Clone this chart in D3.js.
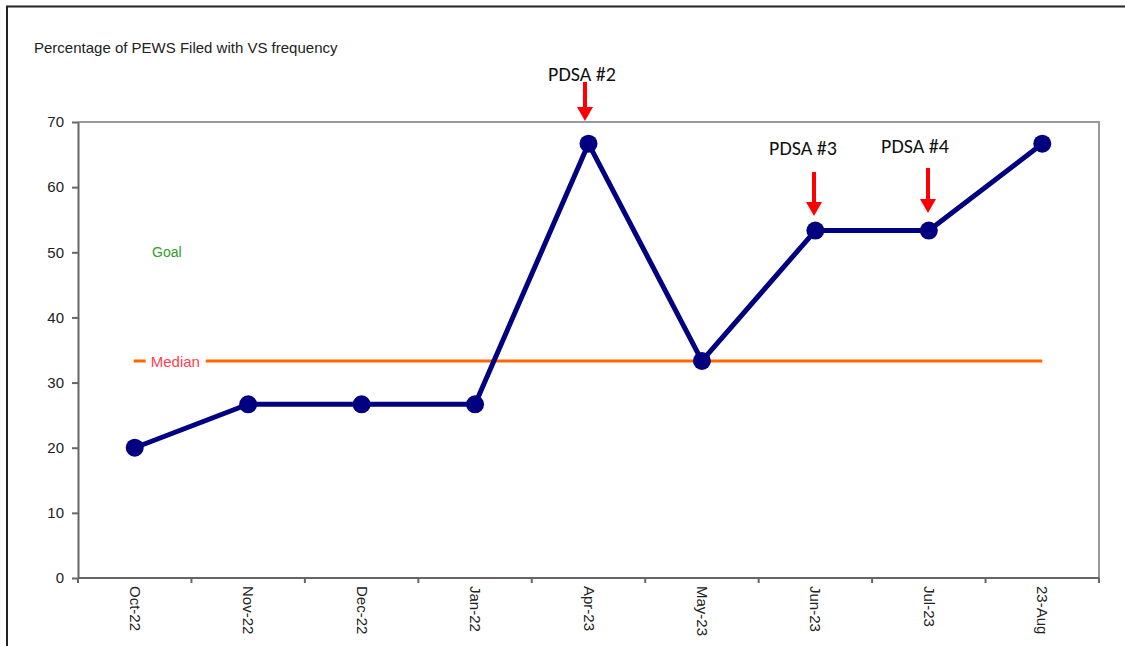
<!doctype html>
<html>
<head>
  <meta charset="utf-8">
  <script src="https://d3js.org/d3.v7.min.js"></script>
  <style>
    body { margin: 0; background: #fff; }
    svg { display: block; }
    .axis path, .axis line { stroke: #666; stroke-width: 2; }
    .axis text { font-family: Arial, "Liberation Sans", sans-serif; fill: #222; }
    .pdsa { font-family: Carlito, Calibri, "Open Sans", sans-serif; font-size: 20px; fill: #111; }
  </style>
</head>
<body>
<script>
  // chart data
  var months = ["Oct-22", "Nov-22", "Dec-22", "Jan-22", "Apr-23", "May-23", "Jun-23", "Jul-23", "23-Aug"];
  var pct = [20, 26.67, 26.67, 26.67, 66.67, 33.33, 53.33, 53.33, 66.67];
  var yTicks = [0, 10, 20, 30, 40, 50, 60, 70];
  var median = 33.33;
  var goalValue = 50;
  var pdsa = [
    { label: "PDSA #2", month: "Apr-23" },
    { label: "PDSA #3", month: "Jun-23" },
    { label: "PDSA #4", month: "Jul-23" }
  ];

  var W = 1125, H = 646;
  var m = { left: 78, right: 1099, top: 122, bottom: 578 };

  var svg = d3.select("body").append("svg")
    .attr("width", W)
    .attr("height", H);

  // outer frame (top + left only)
  svg.append("path")
    .attr("d", "M7,646V6.5H1125")
    .attr("fill", "none")
    .attr("stroke", "#222")
    .attr("stroke-width", 2);

  svg.append("text")
    .attr("x", 34).attr("y", 53)
    .style("font-family", "Arial, 'Liberation Sans', sans-serif")
    .style("font-size", "15px")
    .style("fill", "#222")
    .text("Percentage of PEWS Filed with VS frequency");

  var x = d3.scaleBand().domain(months).range([m.left, m.right]);
  var y = d3.scaleLinear().domain([0, 70]).range([m.bottom, m.top]);
  var cx = function (d) { return x(d) + x.bandwidth() / 2; };

  // top and right border of plot area
  svg.append("path")
    .attr("d", "M" + m.left + "," + m.top + "H" + m.right + "V" + m.bottom)
    .attr("fill", "none")
    .attr("stroke", "#999")
    .attr("stroke-width", 2);

  var yAxis = svg.append("g").attr("class", "axis")
    .attr("transform", "translate(" + m.left + ",0)")
    .call(d3.axisLeft(y).tickValues(yTicks).tickSize(6).tickSizeOuter(0).tickPadding(8));
  yAxis.selectAll("text").style("font-size", "15px");

  // x axis: ticks at band edges
  var xg = svg.append("g").attr("class", "axis")
    .attr("transform", "translate(0," + m.bottom + ")");
  xg.append("line")
    .attr("x1", m.left).attr("x2", m.right);
  xg.selectAll(".edge").data(months.concat(["end"])).enter().append("line")
    .attr("class", "edge")
    .attr("x1", function (d, i) { return m.left + i * x.bandwidth(); })
    .attr("x2", function (d, i) { return m.left + i * x.bandwidth(); })
    .attr("y1", 0).attr("y2", 5);
  xg.selectAll("text").data(months).enter().append("text")
    .attr("transform", function (d) { return "translate(" + (cx(d) - 5) + ",8) rotate(90)"; })
    .style("font-size", "15px")
    .text(function (d) { return d; });

  // goal label
  svg.append("text")
    .attr("x", 152).attr("y", y(goalValue) + 5)
    .style("font-family", "Arial, 'Liberation Sans', sans-serif")
    .style("font-size", "14px")
    .style("fill", "#2ca02c")
    .text("Goal");

  // median line with label gap
  var mx0 = cx(months[0]), mx1 = cx(months[months.length - 1]);
  svg.append("line")
    .attr("x1", mx0 - 1).attr("x2", mx1)
    .attr("y1", y(median)).attr("y2", y(median))
    .attr("stroke", "#ff6600").attr("stroke-width", 3);
  svg.append("rect")
    .attr("x", mx0 + 11).attr("y", y(median) - 5)
    .attr("width", 60).attr("height", 10)
    .attr("fill", "#fff");
  svg.append("text")
    .attr("x", mx0 + 16).attr("y", y(median) + 6)
    .style("font-family", "Arial, 'Liberation Sans', sans-serif")
    .style("font-size", "15px")
    .style("fill", "#ff4050")
    .text("Median");

  // data line
  var line = d3.line()
    .x(function (d, i) { return cx(months[i]); })
    .y(function (d) { return y(d); });
  svg.append("path")
    .datum(pct)
    .attr("d", line)
    .attr("fill", "none")
    .attr("stroke", "#000080")
    .attr("stroke-width", 5)
    .attr("stroke-linejoin", "round");
  svg.selectAll(".pt").data(pct).enter().append("circle")
    .attr("class", "pt")
    .attr("cx", function (d, i) { return cx(months[i]); })
    .attr("cy", function (d) { return y(d); })
    .attr("r", 9)
    .attr("fill", "#000080");

  // PDSA annotations
  var pdsaPos = {
    "PDSA #2": { tx: 582, ty: 81, ax: 585, y0: 82, y1: 121 },
    "PDSA #3": { tx: 803, ty: 155, ax: 814, y0: 172, y1: 216 },
    "PDSA #4": { tx: 915, ty: 153, ax: 928, y0: 168, y1: 213 }
  };
  pdsa.forEach(function (p) {
    var s = pdsaPos[p.label];
    svg.append("text").attr("class", "pdsa")
      .attr("x", s.tx).attr("y", s.ty)
      .attr("text-anchor", "middle")
      .text(p.label);
    svg.append("line")
      .attr("x1", s.ax).attr("x2", s.ax)
      .attr("y1", s.y0).attr("y2", s.y1 - 12)
      .attr("stroke", "#ff0000").attr("stroke-width", 4);
    svg.append("path")
      .attr("d", "M" + (s.ax - 8) + "," + (s.y1 - 14) + "L" + (s.ax + 8) + "," + (s.y1 - 14) + "L" + s.ax + "," + s.y1 + "Z")
      .attr("fill", "#ff0000");
  });
</script>
</body>
</html>
